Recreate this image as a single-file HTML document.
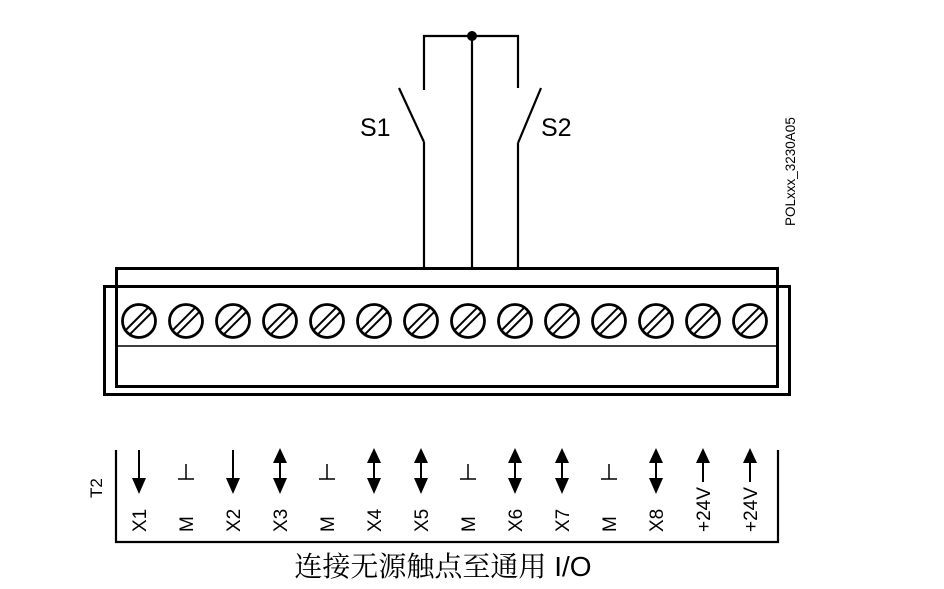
<!DOCTYPE html>
<html><head><meta charset="utf-8"><style>
html,body{margin:0;padding:0;background:#fff;}
svg{display:block;}
text{font-family:"Liberation Sans",Arial,sans-serif;fill:#000;}
</style></head><body>
<svg width="944" height="589" viewBox="0 0 944 589" xmlns="http://www.w3.org/2000/svg">
<g stroke="#000" fill="none" stroke-width="2.2">
<polyline points="424,90 424,36 518,36 518,88"/>
<line x1="472" y1="36" x2="472" y2="268"/>
<line x1="399" y1="88" x2="424" y2="142"/>
<line x1="424" y1="142" x2="424" y2="268"/>
<line x1="541" y1="88" x2="518" y2="143"/>
<line x1="518" y1="143" x2="518" y2="268"/>
</g>
<circle cx="472" cy="36" r="5" fill="#000"/>
<text x="360" y="136" font-size="25">S1</text>
<text x="541" y="136" font-size="25">S2</text>
<text transform="translate(795,226) rotate(-90)" font-size="13.5">POLxxx_3230A05</text>
<g stroke="#000" fill="none">
<rect x="104.5" y="286.5" width="685" height="108" stroke-width="3"/>
<rect x="116.5" y="268.5" width="661" height="118" stroke-width="3"/>
<line x1="116" y1="346" x2="778" y2="346" stroke-width="1.5"/>
</g>
<g stroke="#000" fill="none" stroke-width="2.8">
<circle cx="139" cy="321" r="16.5"/><circle cx="186" cy="321" r="16.5"/><circle cx="233" cy="321" r="16.5"/><circle cx="280" cy="321" r="16.5"/><circle cx="327" cy="321" r="16.5"/><circle cx="374" cy="321" r="16.5"/><circle cx="421" cy="321" r="16.5"/><circle cx="468" cy="321" r="16.5"/><circle cx="515" cy="321" r="16.5"/><circle cx="562" cy="321" r="16.5"/><circle cx="609" cy="321" r="16.5"/><circle cx="656" cy="321" r="16.5"/><circle cx="703" cy="321" r="16.5"/><circle cx="750" cy="321" r="16.5"/>
</g>
<g stroke="#000" stroke-width="2" id="slots"></g>
<g stroke="#000" fill="none" stroke-width="2.2">
<polyline points="116,450 116,542 778,542 778,450"/>
</g>
<text transform="translate(102,498) rotate(-90)" font-size="17">T2</text>
<text x="443" y="576" font-size="28" text-anchor="middle"><tspan style="font-family:'Noto Serif CJK SC',serif">连接无源触点至通用</tspan> I/O</text>
<script>
var xs=[139,186,233,280,327,374,421,468,515,562,609,656,703,750];
var t=['d','g','d','b','g','b','b','g','b','b','g','b','u','u'];
var lab=['X1','M','X2','X3','M','X4','X5','M','X6','X7','M','X8','+24V','+24V'];
var ns='http://www.w3.org/2000/svg';
var svg=document.querySelector('svg');
function el(n,a,p){var e=document.createElementNS(ns,n);for(var k in a)e.setAttribute(k,a[k]);(p||svg).appendChild(e);return e;}
var sl=document.getElementById('slots');
xs.forEach(function(x,i){
 [-3,3].forEach(function(o){el('line',{x1:x-11+o*0.7,y1:321+11+o*0.7,x2:x+11+o*0.7,y2:321-11+o*0.7},sl);});
 var k=t[i];
 if(k=='d'){el('line',{x1:x,y1:450,x2:x,y2:482,stroke:'#000','stroke-width':2});el('polygon',{points:(x-7)+',478 '+(x+7)+',478 '+x+',494'});}
 if(k=='b'){el('line',{x1:x,y1:455,x2:x,y2:485,stroke:'#000','stroke-width':2});el('polygon',{points:(x-7)+',463 '+(x+7)+',463 '+x+',448'});el('polygon',{points:(x-7)+',478 '+(x+7)+',478 '+x+',494'});}
 if(k=='g'){el('line',{x1:x,y1:464,x2:x,y2:479,stroke:'#000','stroke-width':1.5});el('line',{x1:x-8,y1:479,x2:x+8,y2:479,stroke:'#000','stroke-width':1.5});}
 if(k=='u'){el('line',{x1:x,y1:455,x2:x,y2:482,stroke:'#000','stroke-width':2});el('polygon',{points:(x-7)+',463 '+(x+7)+',463 '+x+',448'});}
 var tx=el('text',{transform:'translate('+(x+7)+',532) rotate(-90)','font-size':'19'});tx.textContent=lab[i];
});
</script>
</svg>
</body></html>
